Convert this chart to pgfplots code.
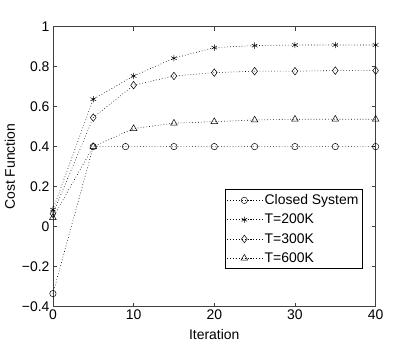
\documentclass[border=0pt]{standalone}
\usepackage{pgfplots}
\pgfplotsset{compat=1.18}
\usepackage{fontspec}
\setmainfont{Liberation Sans}

\begin{document}
\begin{tikzpicture}
\begin{axis}[
  width=322.7bp, height=280bp, scale only axis,
  xmin=0, xmax=40, ymin=-0.4, ymax=1,
  xtick={0,10,20,30,40},
  ytick={-0.4,-0.2,0,0.2,0.4,0.6,0.8,1},
  yticklabels={−0.4,−0.2,0,0.2,0.4,0.6,0.8,1},
  tick align=inside, major tick length=4bp,
  axis line style={black!75, line width=0.7pt},
  every tick/.style={black!75, line width=0.5pt},
  font=\fontsize{14}{16}\selectfont,
  /pgf/number format/assume math mode=true,
  xlabel={Iteration}, ylabel={Cost Function},
  xlabel style={at={(rel axis cs:0.5,-0.101)}, anchor=center},
  ylabel style={at={(rel axis cs:-0.133,0.5)}, anchor=center},
  clip=false,
  every axis plot/.append style={black, line width=0.6pt,
    dash pattern=on 0.7pt off 2.2pt,
    mark options={solid, black, line width=0.5pt}},
  legend style={at={(0.96,0.134)}, anchor=south east, draw=black,
    line width=0.6pt, font=\fontsize{14}{16}\selectfont,
    inner xsep=2pt, inner ysep=3pt, row sep=4pt},
  legend cell align=left,
  legend image code/.code={
    \path (0bp,0bp) -- (35bp,0bp);
    \draw[#1] (3bp,0bp) -- (31bp,0bp);
    \draw[#1, mark repeat=2, mark phase=2] plot coordinates {(3bp,0bp) (17bp,0bp) (31bp,0bp)};
  },
]
\addplot[mark=o, mark size=3.2bp] coordinates {
(0,-0.335) (5,0.40) (9,0.40) (15,0.40) (20,0.40) (25,0.40) (30,0.40) (35,0.40) (40,0.40)};
\addplot[mark=asterisk, mark size=3.2bp] coordinates {
(0,0.085) (5,0.637) (10,0.753) (15,0.842) (20,0.895) (25,0.905) (30,0.908) (35,0.908) (40,0.908)};
\addplot[mark=diamond, mark size=3.8bp] coordinates {
(0,0.065) (5,0.545) (10,0.707) (15,0.753) (20,0.770) (25,0.777) (30,0.777) (35,0.780) (40,0.780)};
\addplot[mark=triangle, mark size=3.8bp] coordinates {
(0,0.045) (5,0.40) (10,0.49) (15,0.517) (20,0.525) (25,0.533) (30,0.537) (35,0.537) (40,0.537)};
\legend{Closed System, T=200K, T=300K, T=600K}
\path (rel axis cs:-0.164,-0.140) rectangle (rel axis cs:1.122,1.095);
\end{axis}
\end{tikzpicture}
\end{document}
